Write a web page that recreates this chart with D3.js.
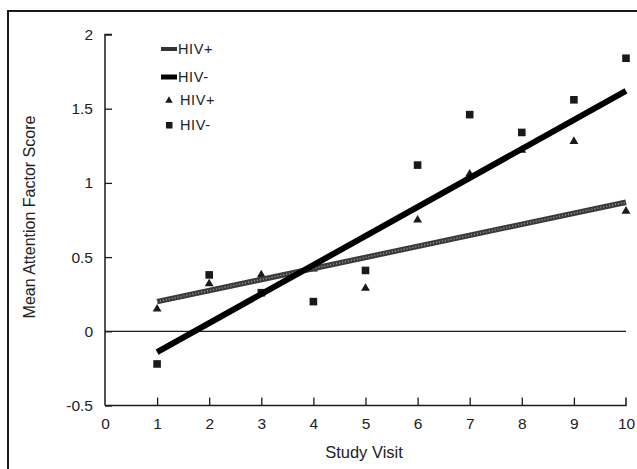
<!DOCTYPE html>
<html>
<head>
<meta charset="utf-8">
<script src="https://cdn.jsdelivr.net/npm/d3@7"></script>
<style>
  body { margin: 0; background: #fff; }
  svg { display: block; font-family: "Liberation Sans", Arial, sans-serif; }
</style>
</head>
<body>
<div id="chart"></div>
<script>
// data
const visits = [1, 2, 3, 4, 5, 6, 7, 8, 9, 10];
const hivPos = [0.15, 0.32, 0.38, 0.42, 0.29, 0.75, 1.06, 1.22, 1.28, 0.81];
const hivNeg = [-0.22, 0.38, 0.26, 0.2, 0.41, 1.12, 1.46, 1.34, 1.56, 1.84];
// fitted lines: [start, end] at visit 1 and visit 10
const fitPos = [0.2, 0.87];
const fitNeg = [-0.14, 1.62];
const xTicks = [0, 1, 2, 3, 4, 5, 6, 7, 8, 9, 10];
const yTicks = [-0.5, 0, 0.5, 1, 1.5, 2];
const legendItems = [
  { label: 'HIV+', kind: 'linePos' },
  { label: 'HIV-', kind: 'lineNeg' },
  { label: 'HIV+', kind: 'tri' },
  { label: 'HIV-', kind: 'sq' }
];

const W = 637, H = 469;
const svg = d3.select('#chart').append('svg')
  .attr('width', W).attr('height', H);

const x = d3.scaleLinear().domain([0, 10]).range([105, 626]);
const y = d3.scaleLinear().domain([-0.5, 2]).range([405.5, 34.5]);
const ink = '#1a1a1a';

// outer frame (only top and left survive in the scan)
svg.append('path')
  .attr('d', `M8,${H} L8,11 L${W},11`)
  .attr('fill', 'none').attr('stroke', ink).attr('stroke-width', 2);

// axes
const yAxis = d3.axisRight(y).tickValues(yTicks).tickSize(7).tickFormat(d => d);
const gy = svg.append('g').attr('transform', `translate(${x(0)},0)`).call(yAxis);
gy.select('.domain').attr('d', `M7,${y(2)}H0V${y(-0.5)}`).attr('stroke', ink).attr('stroke-width', 1.5);
gy.selectAll('.tick line').attr('stroke', ink).attr('stroke-width', 1.3);
gy.selectAll('.tick text')
  .attr('x', -12).attr('text-anchor', 'end')
  .attr('font-size', 15.5).attr('fill', '#222');

const xAxis = d3.axisTop(x).tickValues(xTicks).tickSize(8).tickFormat(d => d);
const gx = svg.append('g').attr('transform', `translate(0,${y(-0.5)})`).call(xAxis);
gx.select('.domain').attr('d', `M${x(0)},0H${x(10)}V-8`).attr('stroke', ink).attr('stroke-width', 1.5);
gx.selectAll('.tick line').attr('stroke', ink).attr('stroke-width', 1.3)
  .filter(d => d === 0 || d === 10).remove();
gx.selectAll('.tick text')
  .attr('y', 23).attr('dy', 0)
  .attr('font-size', 15.5).attr('fill', '#222');

// zero reference line
svg.append('line')
  .attr('x1', x(0)).attr('x2', x(10))
  .attr('y1', y(0)).attr('y2', y(0))
  .attr('stroke', ink).attr('stroke-width', 1.3);

// axis titles
svg.append('text')
  .attr('x', 364).attr('y', 458)
  .attr('text-anchor', 'middle').attr('font-size', 16.5).attr('fill', '#222')
  .text('Study Visit');
svg.append('text')
  .attr('transform', 'translate(35,217) rotate(-90)')
  .attr('text-anchor', 'middle').attr('font-size', 16).attr('fill', '#222')
  .text('Mean Attention Factor Score');

// markers
const tri = d3.symbol().type(d3.symbolTriangle).size(34);
svg.append('g').selectAll('path')
  .data(visits.map((v, i) => [v, hivPos[i]]))
  .join('path')
  .attr('transform', d => `translate(${x(d[0])},${y(d[1])})`)
  .attr('d', tri).attr('fill', ink);

svg.append('g').selectAll('rect')
  .data(visits.map((v, i) => [v, hivNeg[i]]))
  .join('rect')
  .attr('x', d => x(d[0]) - 3.8).attr('y', d => y(d[1]) - 3.8)
  .attr('width', 7.6).attr('height', 7.6)
  .attr('fill', ink);

// fitted lines
const fitLine = d3.line().x(d => x(d[0])).y(d => y(d[1]));
svg.append('path')
  .attr('d', fitLine([[1, fitPos[0]], [10, fitPos[1]]]))
  .attr('stroke', '#3a3a3a').attr('stroke-width', 5.5).attr('fill', 'none');
svg.append('path')
  .attr('d', fitLine([[1, fitPos[0]], [10, fitPos[1]]]))
  .attr('stroke', '#9a9a9a').attr('stroke-width', 1.6)
  .attr('stroke-dasharray', '1,2').attr('fill', 'none');
svg.append('path')
  .attr('d', fitLine([[1, fitNeg[0]], [10, fitNeg[1]]]))
  .attr('stroke', '#000').attr('stroke-width', 6).attr('fill', 'none');

// legend
const lg = svg.append('g').attr('transform', 'translate(161,0)');
const rowY = [49, 77, 100, 125];
legendItems.forEach((it, i) => {
  const r = lg.append('g').attr('transform', `translate(0,${rowY[i]})`);
  if (it.kind === 'linePos') {
    r.append('line').attr('x1', 0).attr('x2', 16).attr('stroke', '#333').attr('stroke-width', 4);
  } else if (it.kind === 'lineNeg') {
    r.append('line').attr('x1', 0).attr('x2', 16).attr('stroke', '#000').attr('stroke-width', 5);
  } else if (it.kind === 'tri') {
    r.append('path').attr('transform', 'translate(8,0.5)')
      .attr('d', d3.symbol().type(d3.symbolTriangle).size(24)).attr('fill', ink);
  } else {
    r.append('rect').attr('x', 5).attr('y', -3).attr('width', 6.5).attr('height', 6.5).attr('fill', ink);
  }
  r.append('text').attr('x', it.kind.startsWith('line') ? 17 : 19).attr('dy', '0.36em')
    .attr('font-size', 14.5).attr('letter-spacing', 0.6).attr('fill', '#222').text(it.label);
});
</script>
</body>
</html>
